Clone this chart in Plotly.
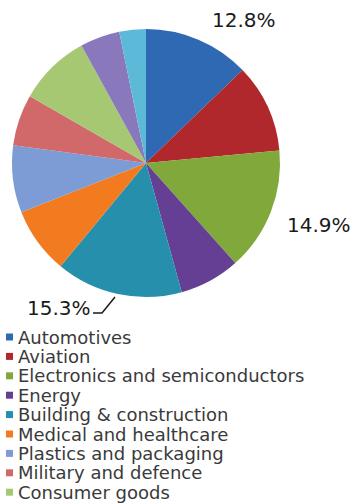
import plotly.graph_objects as go

# Share of demand by end-use sector (%)
sectors = [
    "Automotives",
    "Aviation",
    "Electronics and semiconductors",
    "Energy",
    "Building & construction",
    "Medical and healthcare",
    "Plastics and packaging",
    "Military and defence",
    "Consumer goods",
    "Sports and leisure",
    "Other",
]
shares = [12.8, 10.7, 14.9, 7.3, 15.3, 8.0, 8.1, 6.2, 8.7, 4.8, 3.2]
colors = [
    "#2F69B3", "#B0282B", "#80A83A", "#653F93", "#2690AC", "#F27B1F",
    "#7D9CD6", "#D1686A", "#A7C873", "#8A78BC", "#5DB9D8",
]
# sectors whose share is printed next to the pie
labelled = ["Automotives", "Electronics and semiconductors", "Building & construction"]

W, H = 352, 504
FONT = "DejaVu Sans"


def px(x):
    return x / W


def py(y):
    return 1 - y / H


fig = go.Figure(
    go.Pie(
        labels=sectors,
        values=shares,
        sort=False,
        direction="clockwise",
        rotation=0,
        marker=dict(colors=colors, line=dict(width=0)),
        textinfo="none",
        hoverinfo="label+percent",
        showlegend=False,
        domain=dict(x=[px(12), px(280)], y=[py(297), py(29)]),
    )
)

annotations = []
shapes = []

# value labels placed beside their slices
label_pos = {
    "Automotives": (210, 20),
    "Electronics and semiconductors": (285, 225),
    "Building & construction": (25, 308),
}
for name in labelled:
    v = shares[sectors.index(name)]
    x, y = label_pos[name]
    annotations.append(dict(
        x=px(x), y=py(y), xref="paper", yref="paper",
        xanchor="left", yanchor="middle", showarrow=False,
        text=f"{v:.1f}%", font=dict(family=FONT, size=20, color="#1a1a1a"),
    ))

# leader line for the construction label
shapes.append(dict(
    type="path", xref="paper", yref="paper",
    path=f"M {px(93)},{py(313)} L {px(102)},{py(313)} L {px(115)},{py(297)}",
    line=dict(color="#1a1a1a", width=1.5),
))

# legend: colour square + sector name per row (rows that fit on the page)
row0, step = 337, 19.4
for i, (name, col) in enumerate(zip(sectors, colors)):
    yc = row0 + i * step
    if yc + 8 > H:
        break
    shapes.append(dict(
        type="rect", xref="paper", yref="paper",
        x0=px(6), x1=px(13), y0=py(yc + 3.5), y1=py(yc - 3.5),
        fillcolor=col, line=dict(width=0),
    ))
    annotations.append(dict(
        x=px(16), y=py(yc), xref="paper", yref="paper",
        xanchor="left", yanchor="middle", showarrow=False,
        text=name, font=dict(family=FONT, size=18, color="#3a3a3a"),
    ))

fig.update_layout(
    width=W, height=H,
    margin=dict(l=0, r=0, t=0, b=0),
    paper_bgcolor="white",
    plot_bgcolor="white",
    annotations=annotations,
    shapes=shapes,
)

fig.write_html("out.html")
